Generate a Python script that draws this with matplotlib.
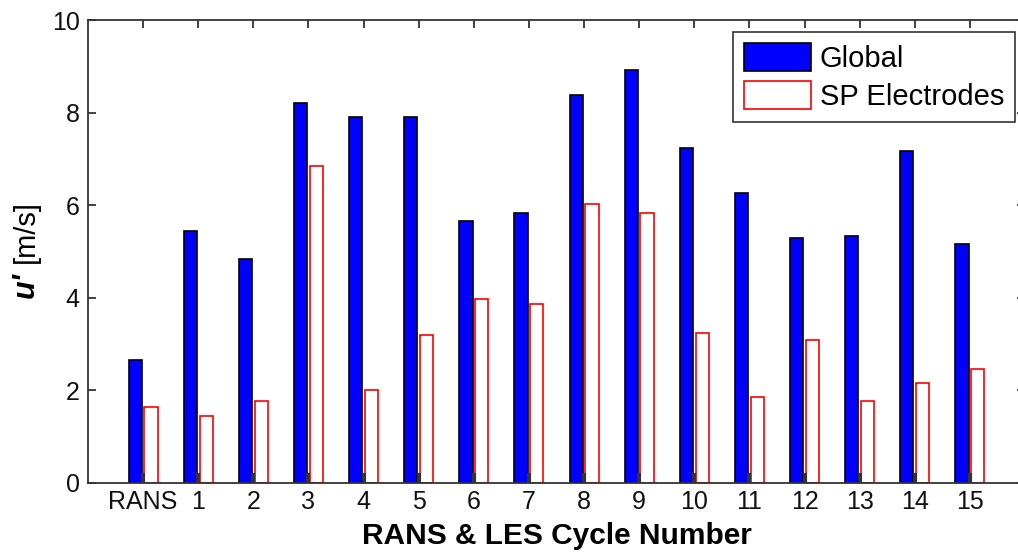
import matplotlib.pyplot as plt
import numpy as np
from matplotlib.patches import Patch

plt.rcParams['font.family'] = ['Liberation Sans', 'DejaVu Sans']

cycles = ['RANS', '1', '2', '3', '4', '5', '6', '7', '8', '9',
          '10', '11', '12', '13', '14', '15']
u_global = [2.66, 5.45, 4.83, 8.20, 7.91, 7.91, 5.66, 5.84,
            8.39, 8.92, 7.24, 6.27, 5.30, 5.34, 7.16, 5.16]
u_sp = [1.65, 1.44, 1.77, 6.85, 2.01, 3.19, 3.97, 3.87,
        6.03, 5.84, 3.23, 1.86, 3.08, 1.77, 2.15, 2.47]

W, H = 1018, 553
fig = plt.figure(figsize=(W / 100, H / 100), dpi=100)
ax = fig.add_axes([88 / W, 1 - 483 / H, 937 / W, 463 / H])
ax.set_axisbelow(False)

x = np.arange(len(cycles))
bw = 0.24
off = 0.143
ax.bar(x - off, u_global, bw, color='#0000ff', edgecolor='black',
       linewidth=1.2, label='Global', zorder=1)
ax.bar(x + off, u_sp, bw, color='white', edgecolor='#ff0000',
       linewidth=1.2, label='SP Electrodes', zorder=1)

ax.set_xlim(-1, 16)
ax.set_ylim(0, 10)
ax.set_xticks(x)
ax.set_xticklabels(cycles)
ax.set_yticks(np.arange(0, 11, 2))

spine_c = '#333333'
for s in ax.spines.values():
    s.set_color(spine_c)
    s.set_linewidth(1.3)
ax.tick_params(direction='in', length=6, width=1.3, color=spine_c,
               top=True, right=True, labelsize=18, labelcolor='#111111')
ax.tick_params(axis='x', pad=5)
ax.tick_params(axis='y', pad=6)
# bottom x ticks sit on top of the bars, drawn darker and heavier
for t in ax.xaxis.get_major_ticks():
    t.tick1line.set_markersize(7.5)
    t.tick1line.set_markeredgewidth(3)
    t.tick1line.set_color('black')

ax.set_xlabel('RANS & LES Cycle Number', fontsize=21.5, fontweight='bold',
              labelpad=6)

# y label: bold italic u' followed by regular units
fig.text(26 / W, 1 - 298 / H, "u'", rotation=90, ha='center', va='bottom',
         fontsize=22, fontweight='bold', fontstyle='italic')
fig.text(26 / W, 1 - 263 / H, "[m/s]", rotation=90, ha='center', va='bottom',
         fontsize=21)

handles = [Patch(facecolor='#0000ff', edgecolor='black', linewidth=1.2),
           Patch(facecolor='white', edgecolor='#ff0000', linewidth=1.2)]
leg = ax.legend(handles, ['Global', 'SP Electrodes'], loc='upper right',
                bbox_to_anchor=(1015 / W, 1 - 32 / H),
                bbox_transform=fig.transFigure, borderaxespad=0,
                fontsize=21, fancybox=False, framealpha=1,
                edgecolor=spine_c, handlelength=2.3, handleheight=1.1,
                handletextpad=0.3, labelspacing=0.28, borderpad=0.38)
leg.get_frame().set_linewidth(1.2)

fig.savefig('out.png', dpi=100)
